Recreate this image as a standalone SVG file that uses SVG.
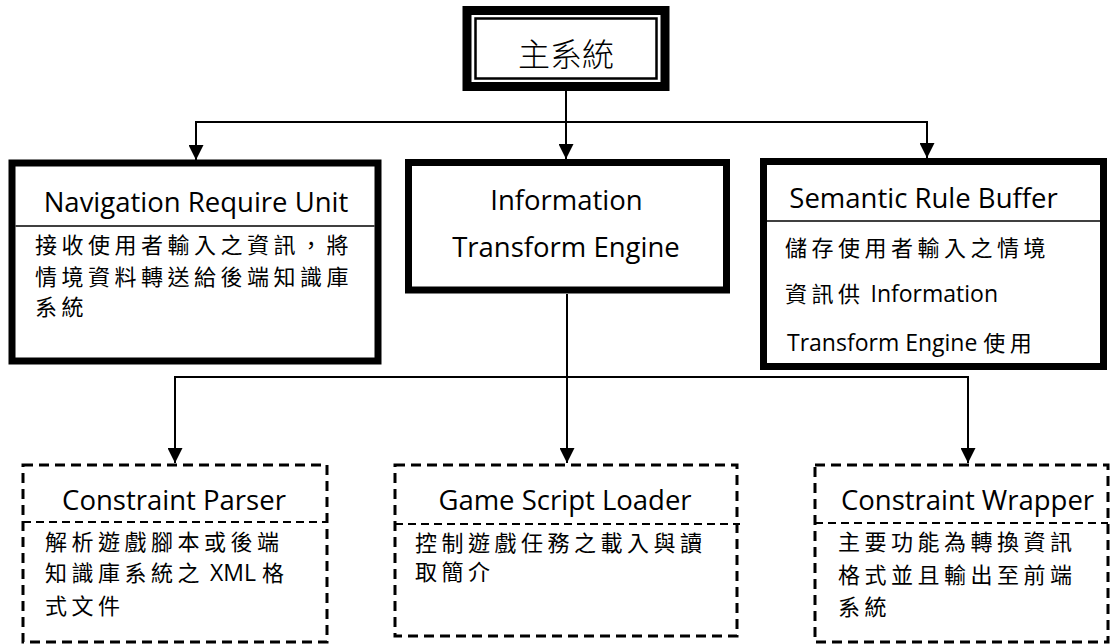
<svg xmlns="http://www.w3.org/2000/svg" width="1116" height="644" viewBox="0 0 1116 644">
  <style>
    .ttl { font-family: "Open Sans", "Liberation Sans", sans-serif; font-size: 27.5px; fill: #000; text-anchor: middle; }
    .cj { font-family: "Noto Sans CJK TC", "Noto Sans CJK SC", sans-serif; font-size: 22px; letter-spacing: 4.5px; fill: #000; }
    .lat { font-family: "Open Sans", "Liberation Sans", sans-serif; font-size: 23px; letter-spacing: 0; }
    .solid { fill: #fff; stroke: #000; stroke-width: 7; }
    .dash { fill: #fff; stroke: #000; stroke-width: 3; stroke-dasharray: 10 6; }
    .sep { stroke: #000; stroke-width: 1.5; }
    .dsep { stroke: #000; stroke-width: 2; stroke-dasharray: 8 5; }
    .conn { fill: none; stroke: #000; stroke-width: 2; }
  </style>
  <defs>
    <marker id="arrow" markerUnits="userSpaceOnUse" markerWidth="15" markerHeight="15" refX="15" refY="7.5" orient="auto">
      <path d="M0,0 L15,7.5 L0,15 z" fill="#000"/>
    </marker>
  </defs>

  <rect width="1116" height="644" fill="#fff"/>

  <!-- connectors -->
  <g id="connectors" class="conn">
    <path d="M566,91 V159" marker-end="url(#arrow)"/>
    <path d="M566,122 H196 V160" marker-end="url(#arrow)"/>
    <path d="M566,122 H927 V158" marker-end="url(#arrow)"/>
    <path d="M567,294 V463" marker-end="url(#arrow)"/>
    <path d="M567,377 H175 V463" marker-end="url(#arrow)"/>
    <path d="M567,377 H968 V463" marker-end="url(#arrow)"/>
  </g>

  <!-- main system -->
  <g id="main-system">
    <rect x="467" y="10.5" width="198" height="76" fill="#fff" stroke="#000" stroke-width="9"/>
    <rect x="475.5" y="18.5" width="181" height="60" fill="none" stroke="#000" stroke-width="2.5"/>
    <text x="566" y="66" text-anchor="middle" font-family="Noto Sans CJK TC, Noto Sans CJK SC, sans-serif" font-size="32" font-weight="300">主系統</text>
  </g>

  <!-- Navigation Require Unit -->
  <g id="navigation-require-unit">
    <rect class="solid" x="12" y="163" width="366" height="198"/>
    <line class="sep" x1="15.5" y1="226" x2="374.5" y2="226"/>
    <text class="ttl" x="196" y="212">Navigation Require Unit</text>
    <text class="cj" x="35" y="253">接收使用者輸入之資訊，將</text>
    <text class="cj" x="35" y="285">情境資料轉送給後端知識庫</text>
    <text class="cj" x="35" y="315">系統</text>
  </g>

  <!-- Information Transform Engine -->
  <g id="information-transform-engine">
    <rect class="solid" x="408.5" y="162.5" width="318" height="127.5"/>
    <text class="ttl" x="566.5" y="210">Information</text>
    <text class="ttl" x="566" y="257">Transform Engine</text>
  </g>

  <!-- Semantic Rule Buffer -->
  <g id="semantic-rule-buffer">
    <rect class="solid" x="763.5" y="161.5" width="340" height="205"/>
    <line class="sep" x1="767" y1="221" x2="1100" y2="221"/>
    <text class="ttl" x="923.5" y="208">Semantic Rule Buffer</text>
    <text class="cj" x="785" y="256">儲存使用者輸入之情境</text>
    <text class="cj" x="785" y="302">資訊供<tspan class="lat"> Information</tspan></text>
    <text class="cj" x="787" y="351"><tspan class="lat">Transform Engine </tspan>使用</text>
  </g>

  <!-- Constraint Parser -->
  <g id="constraint-parser">
    <rect class="dash" x="23" y="465" width="304" height="177"/>
    <line class="dsep" x1="23" y1="522" x2="327" y2="522"/>
    <text class="ttl" x="174" y="510">Constraint Parser</text>
    <text class="cj" x="45" y="550">解析遊戲腳本或後端</text>
    <text class="cj" x="45" y="581">知識庫系統之<tspan class="lat"> XML </tspan>格</text>
    <text class="cj" x="45" y="614">式文件</text>
  </g>

  <!-- Game Script Loader -->
  <g id="game-script-loader">
    <rect class="dash" x="395" y="465" width="342" height="171"/>
    <line class="dsep" x1="395" y1="524" x2="740" y2="524"/>
    <text class="ttl" x="565" y="510">Game Script Loader</text>
    <text class="cj" x="415" y="551">控制遊戲任務之載入與讀</text>
    <text class="cj" x="415" y="580">取簡介</text>
  </g>

  <!-- Constraint Wrapper -->
  <g id="constraint-wrapper">
    <rect class="dash" x="815" y="465" width="293" height="177"/>
    <line class="dsep" x1="815" y1="523" x2="1108" y2="523"/>
    <text class="ttl" x="967.5" y="510">Constraint Wrapper</text>
    <text class="cj" x="838" y="550">主要功能為轉換資訊</text>
    <text class="cj" x="838" y="583">格式並且輸出至前端</text>
    <text class="cj" x="838" y="615">系統</text>
  </g>
</svg>
